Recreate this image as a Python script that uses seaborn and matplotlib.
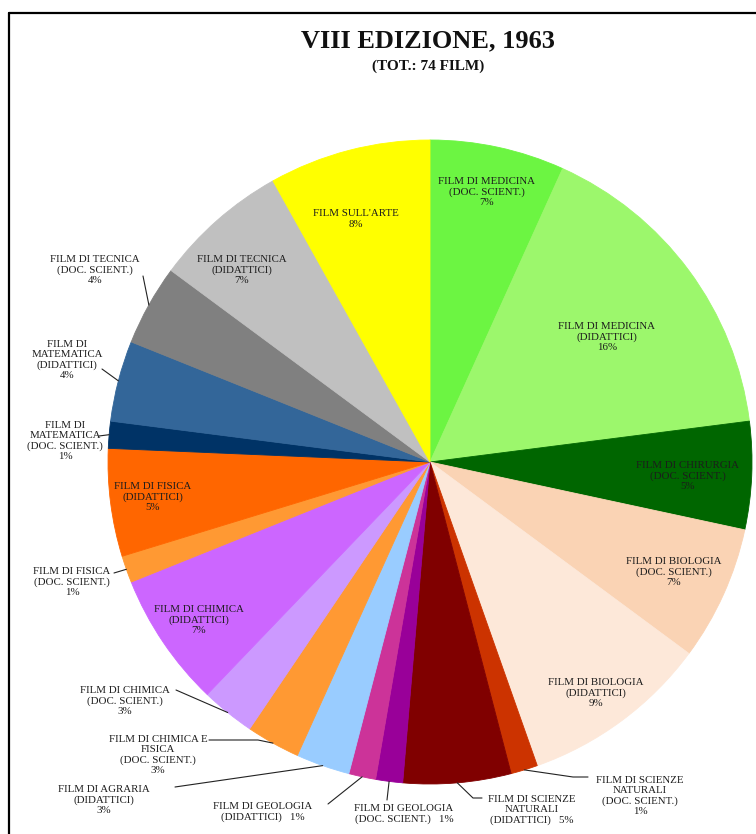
import matplotlib
matplotlib.use("Agg")
import matplotlib.pyplot as plt
import seaborn as sns
import numpy as np
from matplotlib.lines import Line2D

# Films per category, listed clockwise from 12 o'clock
categories = [
    "Medicina (doc. scient.)", "Medicina (didattici)", "Chirurgia (doc. scient.)",
    "Biologia (doc. scient.)", "Biologia (didattici)",
    "Scienze naturali (doc. scient.)", "Scienze naturali (didattici)",
    "Geologia (doc. scient.)", "Geologia (didattici)", "Agraria (didattici)",
    "Chimica e fisica (doc. scient.)", "Chimica (doc. scient.)", "Chimica (didattici)",
    "Fisica (doc. scient.)", "Fisica (didattici)",
    "Matematica (doc. scient.)", "Matematica (didattici)",
    "Tecnica (doc. scient.)", "Tecnica (didattici)", "Film sull'arte",
]
counts = [5, 12, 4, 5, 7, 1, 4, 1, 1, 2, 2, 2, 5, 1, 4, 1, 3, 3, 5, 6]
colors = [
    "#6cf542", "#9cf76c", "#006600", "#fad3b4", "#fde8d9",
    "#cc3300", "#800000", "#990099", "#cc3399", "#99ccff",
    "#ff9933", "#cc99ff", "#cc66ff", "#ff9933", "#ff6600",
    "#003366", "#336699", "#808080", "#c0c0c0", "#ffff00",
]
label_texts = [
    "FILM DI MEDICINA\n(DOC. SCIENT.)\n{p}%",
    "FILM DI MEDICINA\n(DIDATTICI)\n{p}%",
    "FILM DI CHIRURGIA\n(DOC. SCIENT.)\n{p}%",
    "FILM DI BIOLOGIA\n(DOC. SCIENT.)\n{p}%",
    "FILM DI BIOLOGIA\n(DIDATTICI)\n{p}%",
    "FILM DI SCIENZE\nNATURALI\n(DOC. SCIENT.)\n{p}%",
    "FILM DI SCIENZE\nNATURALI\n(DIDATTICI)   {p}%",
    "FILM DI GEOLOGIA\n(DOC. SCIENT.)   {p}%",
    "FILM DI GEOLOGIA\n(DIDATTICI)   {p}%",
    "FILM DI AGRARIA\n(DIDATTICI)\n{p}%",
    "FILM DI CHIMICA E\nFISICA\n(DOC. SCIENT.)\n{p}%",
    "FILM DI CHIMICA\n(DOC. SCIENT.)\n{p}%",
    "FILM DI CHIMICA\n(DIDATTICI)\n{p}%",
    "FILM DI FISICA\n(DOC. SCIENT.)\n{p}%",
    "FILM DI FISICA\n(DIDATTICI)\n{p}%",
    "FILM DI\nMATEMATICA\n(DOC. SCIENT.)\n{p}%",
    "FILM DI\nMATEMATICA\n(DIDATTICI)\n{p}%",
    "FILM DI TECNICA\n(DOC. SCIENT.)\n{p}%",
    "FILM DI TECNICA\n(DIDATTICI)\n{p}%",
    "FILM SULL'ARTE\n{p}%",
]
title = "VIII EDIZIONE, 1963"
subtitle = "(TOT.: 74 FILM)"

# ---- layout (pixels on a 756 x 834 canvas, y measured from the top) ----
W, H = 756, 834
CX, CY, R = 430, 462, 322

# label centre for every slice
label_xy = [
    (487, 192), (607, 337), (688, 476), (674, 572), (596, 693),
    (640, 796), (532, 810), (404, 814), (263, 812), (104, 800),
    (158, 755), (125, 701), (199, 620), (72, 582), (153, 497),
    (65, 441), (67, 360), (95, 270), (242, 270), (356, 219),
]
# leader-line points after the slice edge (None: label sits inside the slice)
leaders = [
    None, None, None, None, None,
    [(573, 777), (588, 777)],
    [(473, 798), (482, 798)],
    [(387, 800)],
    [(328, 804)],
    [(175, 787)],
    [(258, 740), (209, 740)],
    [(176, 690)],
    None,
    [(114, 573)],
    None,
    [(99, 436)],
    [(102, 369)],
    [(143, 276)],
    None, None,
]


def to_data(px, py):
    return (px - CX) / R, (CY - py) / R


sns.set_theme(style="white")
plt.rcParams["font.family"] = ["Liberation Serif", "DejaVu Serif"]

fig = plt.figure(figsize=(W / 100, H / 100), dpi=100)
fig.patch.set_facecolor("white")
ax = fig.add_axes([(CX - R) / W, (H - CY - R) / H, 2 * R / W, 2 * R / H])

wedges, _ = ax.pie(
    counts, colors=colors, startangle=90, counterclock=False, radius=1,
    wedgeprops=dict(linewidth=0.6),
)
for w, c in zip(wedges, colors):
    w.set_edgecolor(c)

ax.set_xlim(-1, 1)
ax.set_ylim(-1, 1)
ax.set_aspect("equal")
ax.axis("off")

total = sum(counts)
txt_color = "#1c1c1c"
for i, (w, n) in enumerate(zip(wedges, counts)):
    pct = int(round(100 * n / total))
    tx, ty = to_data(*label_xy[i])
    ax.text(tx, ty, label_texts[i].format(p=pct), ha="center", va="center",
            fontsize=7.8, color=txt_color, linespacing=1.15)
    if leaders[i] is not None:
        mid = np.deg2rad((w.theta1 + w.theta2) / 2)
        xs = [np.cos(mid)]
        ys = [np.sin(mid)]
        for p in leaders[i]:
            dx, dy = to_data(*p)
            xs.append(dx)
            ys.append(dy)
        ax.plot(xs, ys, color="#222222", lw=0.8, clip_on=False)

fig.text(428 / W, 1 - 41 / H, title, ha="center", va="center",
         fontsize=19, fontweight="bold", color="#111111")
fig.text(428 / W, 1 - 66 / H, subtitle, ha="center", va="center",
         fontsize=11, fontweight="bold", color="#111111")

# frame running along the top and left edges
fig.add_artist(Line2D([9 / W, 1.0], [1 - 13 / H, 1 - 13 / H],
                      transform=fig.transFigure, color="black", lw=1.6))
fig.add_artist(Line2D([9 / W, 9 / W], [0.0, 1 - 13 / H],
                      transform=fig.transFigure, color="black", lw=1.6))

fig.savefig("out.png", dpi=100, facecolor="white")
